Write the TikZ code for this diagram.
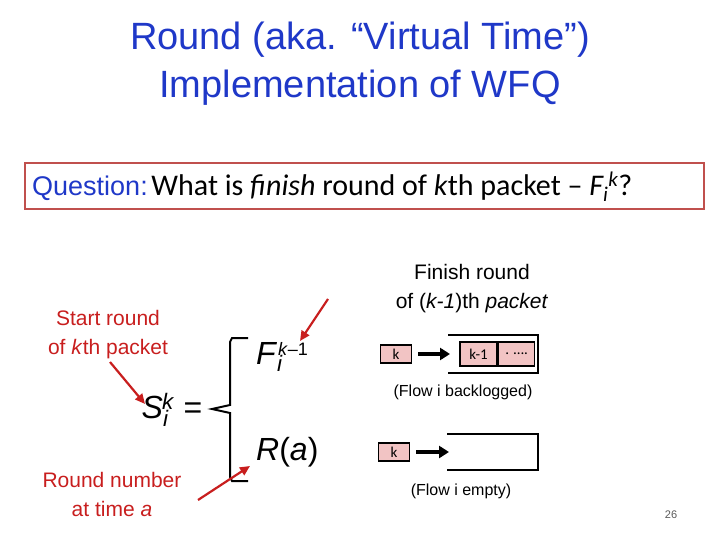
\documentclass[tikz,border=0pt]{standalone}
\usepackage{fontspec}
\setmainfont{Liberation Sans}
\newfontfamily\calib{Carlito}
\usetikzlibrary{arrows.meta}
\definecolor{tblue}{RGB}{31,56,200}
\definecolor{tred}{RGB}{200,30,30}
\definecolor{boxred}{RGB}{192,80,77}
\definecolor{pk}{RGB}{242,196,196}
\begin{document}
\begin{tikzpicture}[x=1pt,y=-1pt,
 cell/.style={draw,line width=1.6pt,fill=pk,inner sep=0pt,minimum height=18pt,font=\calib\fontsize{15}{16}\selectfont},
 redarr/.style={tred,line width=2.2pt,-{Triangle[length=10pt,width=9pt]}},
 blkarr/.style={line width=3.5pt,-{Triangle[length=10pt,width=12pt]}},
 lbl/.style={font=\fontsize{21}{29}\selectfont,align=center},
 mth/.style={font=\fontsize{32}{34}\selectfont,inner sep=0pt}]
\useasboundingbox (0,0) rectangle (720,540);
\node[tblue,font=\fontsize{38}{48}\selectfont,align=center] (title) at (360,64) {Round (aka. “Virtual Time”)\\Implementation of WFQ};
\node[draw=boxred,line width=1.5pt,minimum width=679pt,minimum height=46pt,inner sep=0pt] (q) at (364.5,186) {};
\node[anchor=west,inner sep=0pt] (qt) at (32,187) {\textcolor{tblue}{\fontsize{27}{30}\selectfont Question:} \calib\fontsize{30}{32}\selectfont What is \textit{finish} round of \textit{k}th packet – \textit{F\textsubscript{i}\textsuperscript{k}}?};
\node[lbl,tred] (start) at (108,335) {Start round\\of \textit{k}th packet};
\node[lbl,tred] (rn) at (112,494) {Round number\\at time \textit{a}};
\node[lbl] (fin) at (472,289) {Finish round\\of (\textit{k-1})th \textit{packet}};
\node[mth] (S) at (172,410) {\textit{S}\textsubscript{\textit{i}}\kern-7pt\textsuperscript{\textit{k}} =};
\node[mth,anchor=west] (F) at (256,357) {\textit{F}\textsubscript{\textit{i}}\kern-5pt\textsuperscript{\fontsize{18}{20}\selectfont\textit{k}–1}};
\node[mth,anchor=west] (R) at (256,452) {\textit{R}(\textit{a})};
\coordinate (bt) at (248,338); \coordinate (bb) at (248,481);
\draw[line width=2pt] (bt) -- (232,338) -- (230,342) -- (230,405) -- (212,409) -- (230,413) -- (230,477) -- (232,481) -- (bb);
\draw[redarr] (110,362) -- (145,404);
\draw[redarr] (198,500) -- (250,466);
\draw[redarr] (328,299) -- (300,341);
% backlogged
\node[cell,minimum width=31pt] (k1) at (396,354) {k};
\coordinate (q1) at (450,354);
\draw[blkarr] (k1.east)++(6,0) -- (q1);
\draw[line width=2pt] (448,335) -- (538,335) -- (538,373) -- (448,373);
\node[cell,minimum width=37pt,minimum height=24pt] (km) at (478.5,354) {k-1};
\node[cell,minimum width=36pt,minimum height=24pt,anchor=west] (dots) at (km.east) {. ….};
\node[font=\fontsize{16}{18}\selectfont] (fb) at (463,392) {(Flow i backlogged)};
% empty
\node[cell,minimum width=31pt] (k2) at (394,452) {k};
\coordinate (q2) at (449,452);
\draw[blkarr] (k2.east)++(6,0) -- (q2);
\draw[line width=2pt] (447,434) -- (538,434) -- (538,470) -- (447,470);
\node[font=\fontsize{16}{18}\selectfont] (fe) at (461,491) {(Flow i empty)};
\node[font=\fontsize{11}{12}\selectfont,gray!70!black] (pg) at (671,515) {26};
\end{tikzpicture}
\end{document}
